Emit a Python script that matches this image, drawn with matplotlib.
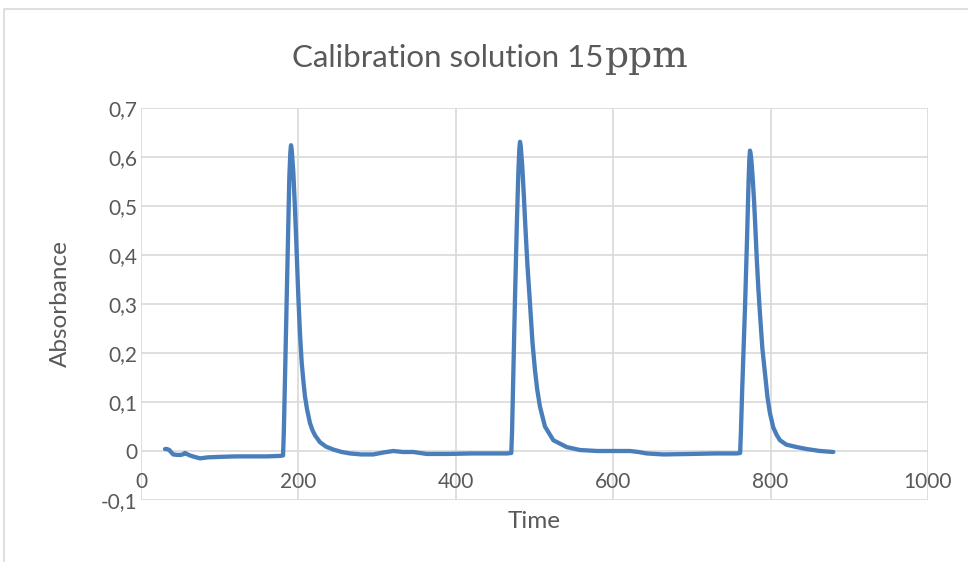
import matplotlib
matplotlib.use("Agg")
import matplotlib.pyplot as plt
from matplotlib.lines import Line2D

# Absorbance trace of the 15 ppm calibration solution (three injections)
time = [
    30.5, 33, 36, 38, 41, 46, 50, 53, 55.9, 58, 62, 68, 75, 85, 100, 120, 140, 160, 176.6, 180.5,
    181.5, 183, 185, 187, 188.5, 189.8, 190.6, 191.5, 193.5, 195.5, 197, 199.9, 202, 204.2, 206.5,
    208.4, 211, 214.7, 218, 221.1, 227.4, 235, 244.3, 255, 265.6, 280, 295.2, 308, 320.6, 333, 346,
    363, 390, 420, 447.6, 465, 470.5,
    471.5, 473, 475.2, 477.5, 479.5, 480.8, 481.6, 482.5, 484.5, 486.5, 488, 491, 494.3, 497.5,
    500.6, 503.5, 507, 513.3, 523.9, 540.9, 557.8, 580, 600, 621.3, 632, 642.6, 663.7, 700, 730,
    756.9, 761.3,
    762.3, 764, 767.5, 770, 772, 773, 773.8, 774.8, 776, 777.5, 779, 780.5, 782.5, 784.5, 786.5,
    789.5, 792.9, 796, 799.2, 803.4, 808, 811.9, 820, 833.2, 845.9, 862.8, 879.7,
]
absorbance = [
    0.004, 0.004, 0.002, -0.002, -0.007, -0.008, -0.008, -0.007, -0.004, -0.006, -0.009, -0.012,
    -0.015, -0.013, -0.012, -0.011, -0.011, -0.011, -0.010, -0.009,
    0.04, 0.15, 0.30, 0.45, 0.56, 0.61, 0.624, 0.615, 0.57, 0.50, 0.44, 0.315, 0.24, 0.18, 0.14,
    0.111, 0.085, 0.057, 0.042, 0.032, 0.018, 0.009, 0.003, -0.002, -0.005, -0.007, -0.007, -0.003,
    0.0, -0.002, -0.002, -0.006, -0.006, -0.005, -0.005, -0.005, -0.004,
    0.04, 0.15, 0.31, 0.46, 0.57, 0.618, 0.631, 0.622, 0.58, 0.52, 0.47, 0.38, 0.30, 0.22,
    0.165, 0.125, 0.09, 0.05, 0.022, 0.008, 0.002, 0.0, 0.0, 0.0, -0.002, -0.005, -0.007, -0.006,
    -0.005, -0.005, -0.004,
    0.04, 0.13, 0.294, 0.43, 0.55, 0.595, 0.613, 0.605, 0.585, 0.55, 0.51, 0.46, 0.39, 0.33, 0.28,
    0.21, 0.158, 0.11, 0.077, 0.048, 0.032, 0.022, 0.013, 0.008, 0.004, 0.0, -0.002,
]

x_ticks = [0, 200, 400, 600, 800, 1000]
x_tick_labels = ["0", "200", "400", "600", "800", "1000"]
y_ticks = [-0.1, 0.0, 0.1, 0.2, 0.3, 0.4, 0.5, 0.6, 0.7]
y_tick_labels = ["-0,1", "0", "0,1", "0,2", "0,3", "0,4", "0,5", "0,6", "0,7"]

title_main = "Calibration solution 15"
title_unit = "ppm"
x_label = "Time"
y_label = "Absorbance"

TEXT = "#595959"
GRID = "#d9d9d9"
LINE = "#4a7ebb"
SANS = ["Lato", "DejaVu Sans"]

W, H = 968, 562
fig = plt.figure(figsize=(W / 100, H / 100), dpi=100)
fig.patch.set_facecolor("white")

# chart-area frame (top and left edges)
fig.add_artist(Line2D([4 / W, 4 / W, 1.0], [0.0, 1 - 9 / H, 1 - 9 / H],
                      transform=fig.transFigure, color=GRID, lw=1.2))

ax = fig.add_axes([141 / W, 1 - 500 / H, (928 - 141) / W, (500 - 108) / H])
ax.plot(time, absorbance, color=LINE, lw=3.1, solid_capstyle="round",
        solid_joinstyle="round", zorder=3)

ax.set_xlim(0, 1000)
ax.set_ylim(-0.1, 0.7)
ax.set_xticks(x_ticks)
ax.set_yticks(y_ticks)
ax.set_yticklabels(y_tick_labels, family=SANS, fontsize=15, color=TEXT)
ax.set_xticklabels([])
ax.tick_params(axis="both", length=0)
ax.tick_params(axis="y", pad=2.5)
ax.grid(True, color=GRID, lw=1.2, zorder=0)
ax.set_axisbelow(True)
for s in ax.spines.values():
    s.set_visible(False)

# horizontal axis crosses at zero, so its labels sit just below y = 0
for xv, lab in zip(x_ticks, x_tick_labels):
    ax.annotate(lab, xy=(xv, 0), xytext=(0, -22.5), textcoords="offset points",
                ha="center", va="center", family=SANS, fontsize=15, color=TEXT,
                annotation_clip=False)

fig.text(534 / W, 1 - 521 / H, x_label, ha="center", va="center",
         family=SANS, fontsize=17.5, color=TEXT)
fig.text(60 / W, 1 - 304 / H, y_label, ha="center", va="center", rotation=90,
         family=SANS, fontsize=17.5, color=TEXT)

# title: sans-serif text followed by a serif unit
t1 = fig.text(292 / W, 1 - 67 / H, title_main, ha="left", va="baseline",
              family=SANS, fontsize=22.5, color=TEXT)
fig.canvas.draw()
bb = t1.get_window_extent(fig.canvas.get_renderer())
fig.text((bb.x1 + 1) / W, 1 - 67 / H, title_unit, ha="left", va="baseline",
         family=["DejaVu Serif"], fontsize=27, color=TEXT)

fig.savefig("out.png", dpi=100, facecolor="white")
